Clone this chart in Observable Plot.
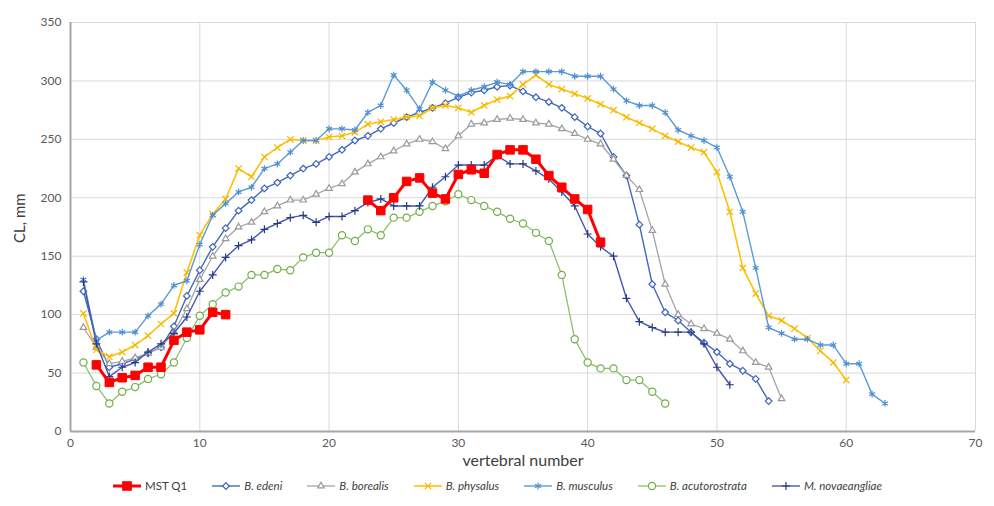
<!DOCTYPE html>
<html>
<head>
<meta charset="utf-8">
<script src="https://cdn.jsdelivr.net/npm/d3@7"></script>
<script src="https://cdn.jsdelivr.net/npm/@observablehq/plot@0.6"></script>
<style>
  body { margin: 0; background: #fff; font-family: Lato, "Open Sans", sans-serif; }
  #chart { width: 994px; }
  #legend { display: flex; justify-content: center; align-items: center; gap: 24px; font-size: 11.5px; color: #404040; margin-top: 4px; padding-left: 0px; }
  .item { display: flex; align-items: center; gap: 3px; }
  .it { font-style: italic; }
</style>
</head>
<body>
<div id="chart"></div>
<script>
// ---- data (vertebral number -> centrum length, mm) ----
const mstQ1Start1 = 2;
const mstQ1Part1 = [57, 42, 46, 48, 55, 55, 78, 85, 87, 102, 100];
const mstQ1Start2 = 23;
const mstQ1Part2 = [198, 189, 200, 214, 217, 204, 199, 220, 224, 221, 237, 241, 241, 233, 219, 209, 199, 190, 162];

const edeniStart = 1;
const edeni = [120, 79, 55, 58, 62, 67, 72, 90, 116, 138, 158, 174, 189, 198, 208, 213, 219, 225, 229, 235, 241, 249, 253, 259, 264, 269, 273, 277, 281, 286, 290, 292, 295, 296, 291, 286, 282, 277, 269, 261, 255, 235, 219, 177, 126, 102, 95, 85, 76, 68, 58, 52, 45, 26];

const borealisStart = 1;
const borealis = [89, 72, 58, 60, 63, 67, 72, 85, 105, 130, 150, 165, 175, 179, 188, 193, 198, 198, 203, 208, 212, 222, 229, 235, 240, 246, 250, 248, 242, 253, 263, 264, 267, 268, 267, 264, 263, 259, 255, 250, 246, 233, 219, 207, 172, 126, 100, 92, 88, 84, 79, 69, 59, 55, 28];

const physalusStart = 1;
const physalus = [101, 70, 64, 68, 74, 82, 92, 101, 136, 168, 186, 199, 225, 218, 235, 243, 250, 249, 249, 252, 253, 256, 263, 265, 267, 269, 270, 277, 279, 277, 273, 279, 284, 287, 297, 305, 297, 293, 289, 285, 280, 275, 269, 264, 259, 253, 248, 243, 239, 222, 188, 140, 118, 99, 95, 88, 80, 69, 59, 44];

const musculusStart = 1;
const musculus = [130, 78, 85, 85, 85, 99, 109, 125, 129, 160, 185, 195, 205, 209, 225, 229, 239, 249, 249, 259, 259, 258, 273, 279, 305, 292, 276, 299, 292, 287, 292, 295, 299, 297, 308, 308, 308, 308, 304, 304, 304, 293, 283, 279, 279, 273, 258, 253, 249, 243, 218, 188, 140, 89, 84, 79, 79, 74, 74, 58, 58, 32, 24];

const acutorostrataStart = 1;
const acutorostrata = [59, 39, 24, 34, 38, 45, 49, 59, 80, 99, 109, 119, 124, 134, 134, 139, 138, 149, 153, 153, 168, 163, 173, 168, 183, 183, 188, 193, 197, 203, 198, 193, 188, 182, 178, 170, 163, 134, 79, 59, 54, 54, 44, 44, 34, 24];

const novaeangliaeStart = 1;
const novaeangliae = [128, 75, 47, 55, 59, 68, 75, 84, 98, 120, 134, 149, 159, 164, 173, 178, 183, 185, 179, 184, 184, 189, 196, 199, 193, 193, 193, 209, 218, 228, 228, 228, 236, 229, 229, 223, 216, 205, 193, 169, 158, 150, 114, 94, 89, 85, 85, 85, 75, 55, 40];

const xTicks = [0, 10, 20, 30, 40, 50, 60, 70];
const yTicks = [0, 50, 100, 150, 200, 250, 300, 350];

// ---- styling per series ----
const series = [
  {name: "B. edeni", segs: [[edeniStart, edeni]], color: "#3D64B8", line: "#4268BC", symbol: "diamond2", fill: "white", r: 3.0, sw: 1.4, italic: true},
  {name: "B. borealis", segs: [[borealisStart, borealis]], color: "#9A9A9A", line: "#A5A5A5", symbol: "triangle2", fill: "white", r: 3.1, sw: 1.3, italic: true},
  {name: "B. physalus", segs: [[physalusStart, physalus]], color: "#F2B800", line: "#FFC000", symbol: "times", fill: "none", r: 3.0, sw: 1.6, italic: true},
  {name: "B. musculus", segs: [[musculusStart, musculus]], color: "#4F8FD0", line: "#5B9BD5", symbol: "asterisk", fill: "none", r: 3.2, sw: 1.4, italic: true},
  {name: "B. acutorostrata", segs: [[acutorostrataStart, acutorostrata]], color: "#70AD47", line: "#8DC26A", symbol: "circle", fill: "white", r: 3.6, sw: 1.3, italic: true},
  {name: "M. novaeangliae", segs: [[novaeangliaeStart, novaeangliae]], color: "#263C80", line: "#4656B0", symbol: "plus", fill: "none", r: 2.7, sw: 1.4, italic: true},
  {name: "MST Q1", segs: [[mstQ1Start1, mstQ1Part1], [mstQ1Start2, mstQ1Part2]], color: "#FF0000", line: "#FF0000", symbol: "square", fill: "#FF0000", r: 4.8, sw: 3, italic: false}
];
const legendOrder = ["MST Q1", "B. edeni", "B. borealis", "B. physalus", "B. musculus", "B. acutorostrata", "M. novaeangliae"];

const rows = s => s.segs.flatMap(([start, vals], k) => vals.map((v, i) => ({x: start + i, y: v, seg: k})));

const marks = [
  Plot.gridX(xTicks, {stroke: "#d9d9d9", strokeOpacity: 1, strokeWidth: 1}),
  Plot.gridY(yTicks, {stroke: "#d9d9d9", strokeOpacity: 1, strokeWidth: 1}),
  Plot.axisX(xTicks, {tickSize: 0, tickPadding: 7, fontSize: 12, color: "#595959", label: null}),
  Plot.axisY(yTicks, {tickSize: 0, tickPadding: 9, fontSize: 12, color: "#595959", label: null}),
  Plot.ruleX([0], {stroke: "#a6a6a6", strokeWidth: 2}),
  Plot.ruleY([0], {stroke: "#a6a6a6", strokeWidth: 2}),
  Plot.text(["vertebral number"], {frameAnchor: "bottom", dy: 34, fontSize: 16, fill: "#404040"}),
  Plot.text(["CL, mm"], {frameAnchor: "left", dx: -50, dy: 16, rotate: -90, fontSize: 15, fill: "#404040"})
];
for (const s of series) {
  const d = rows(s);
  marks.push(Plot.line(d, {x: "x", y: "y", z: "seg", stroke: s.line, strokeWidth: s.sw}));
  marks.push(Plot.dot(d, {x: "x", y: "y", symbol: () => s.symbol, r: s.r, stroke: s.color, fill: s.fill, strokeWidth: s.name === "MST Q1" ? 1 : 1.2}));
}

const chart = Plot.plot({
  width: 994, height: 475,
  marginLeft: 70, marginRight: 19, marginTop: 22, marginBottom: 44,
  style: {fontFamily: "Lato, 'Open Sans', sans-serif", background: "white"},
  x: {domain: [0, 70]},
  y: {domain: [0, 350]},
  symbol: {type: "identity"},
  marks
});
document.getElementById("chart").appendChild(chart);

// ---- legend ----
const symMap = {diamond2: d3.symbolDiamond2, triangle2: d3.symbolTriangle2, times: d3.symbolTimes, asterisk: d3.symbolAsterisk, circle: d3.symbolCircle, plus: d3.symbolPlus, square: d3.symbolSquare};
const legend = d3.select("body").append("div").attr("id", "legend");
for (const name of legendOrder) {
  const s = series.find(t => t.name === name);
  const it = legend.append("div").attr("class", "item");
  const sv = it.append("svg").attr("width", 30).attr("height", 12);
  sv.append("line").attr("x1", 1).attr("x2", 29).attr("y1", 6).attr("y2", 6).attr("stroke", s.line).attr("stroke-width", s.sw);
  sv.append("path").attr("transform", "translate(15,6)")
    .attr("d", d3.symbol(symMap[s.symbol], Math.PI * s.r * s.r)())
    .attr("stroke", s.color).attr("fill", s.fill).attr("stroke-width", 1.2);
  it.append("span").attr("class", s.italic ? "it" : "").text(name);
}
</script>
</body>
</html>
